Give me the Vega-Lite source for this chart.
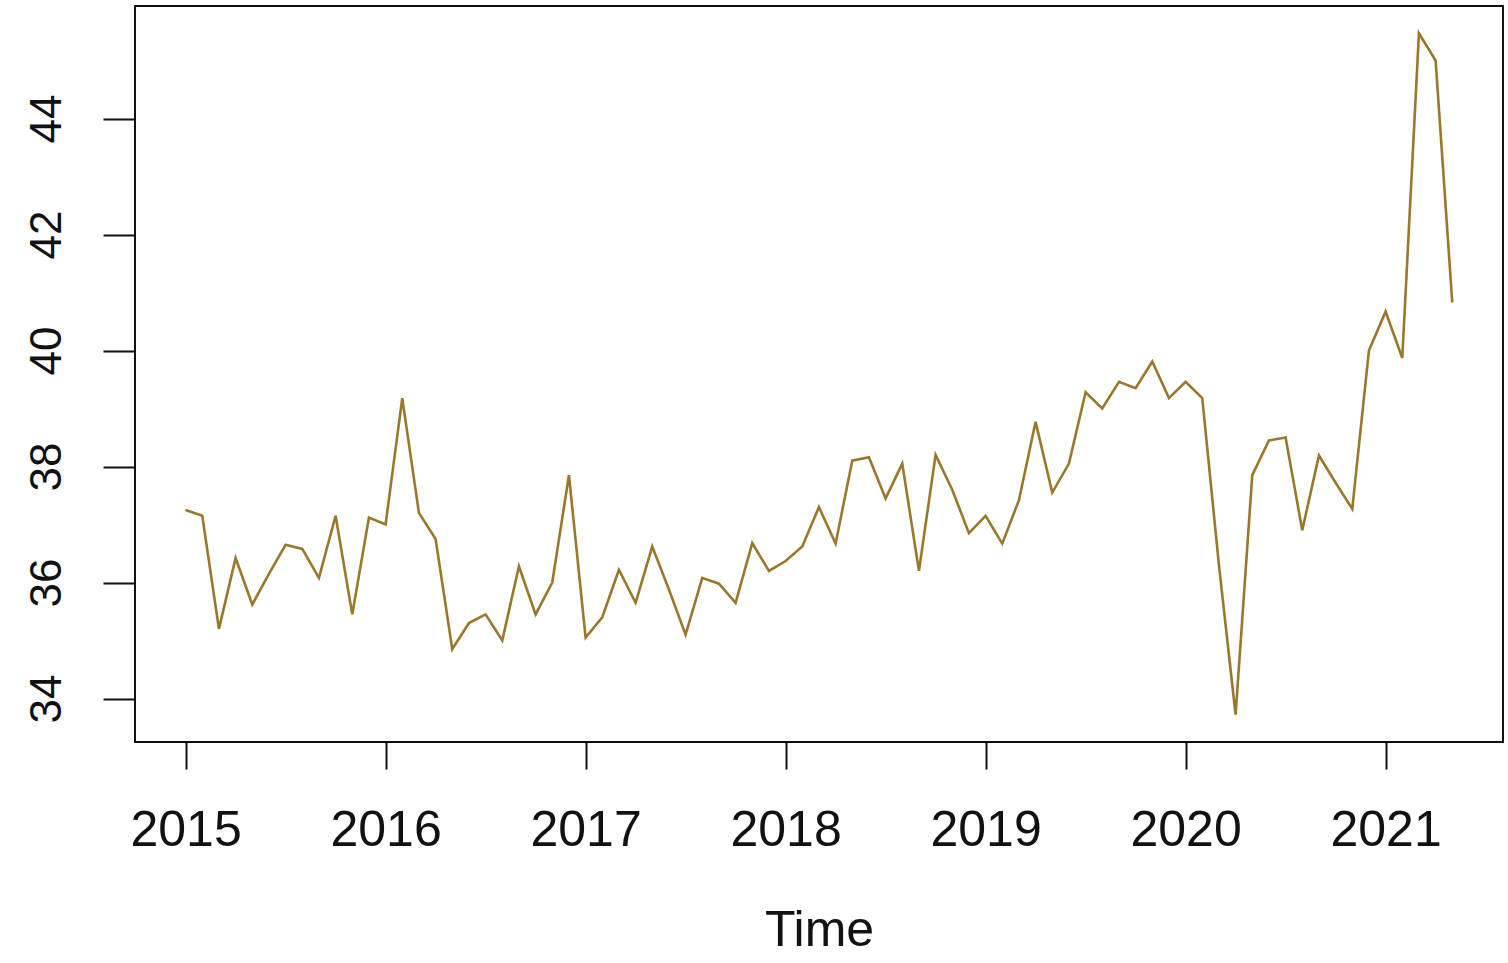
{
  "$schema": "https://vega.github.io/schema/vega-lite/v6.json",
  "width": 1368,
  "height": 736,
  "autosize": {"type": "none"},
  "padding": {"left": 135, "top": 6, "right": 5, "bottom": 221},
  "background": "white",
  "config": {
    "view": {"stroke": "#111", "strokeWidth": 2},
    "font": "Liberation Sans",
    "axis": {"grid": false, "domain": false, "tickColor": "#111", "tickWidth": 2, "labelColor": "#111", "titleColor": "#111", "labelFont": "Liberation Sans", "titleFont": "Liberation Sans", "titleFontWeight": "normal"}
  },
  "data": {
    "values": [
      {"t": 2015.0, "v": 37.25}, {"t": 2015.0833, "v": 37.15}, {"t": 2015.1667, "v": 35.2}, {"t": 2015.25, "v": 36.42},
      {"t": 2015.3333, "v": 35.62}, {"t": 2015.4167, "v": 36.15}, {"t": 2015.5, "v": 36.65}, {"t": 2015.5833, "v": 36.58},
      {"t": 2015.6667, "v": 36.08}, {"t": 2015.75, "v": 37.15}, {"t": 2015.8333, "v": 35.45}, {"t": 2015.9167, "v": 37.12},
      {"t": 2016.0, "v": 37.0}, {"t": 2016.0833, "v": 39.18}, {"t": 2016.1667, "v": 37.2}, {"t": 2016.25, "v": 36.75},
      {"t": 2016.3333, "v": 34.85}, {"t": 2016.4167, "v": 35.3}, {"t": 2016.5, "v": 35.45}, {"t": 2016.5833, "v": 35.0},
      {"t": 2016.6667, "v": 36.28}, {"t": 2016.75, "v": 35.45}, {"t": 2016.8333, "v": 36.0}, {"t": 2016.9167, "v": 37.85},
      {"t": 2017.0, "v": 35.05}, {"t": 2017.0833, "v": 35.4}, {"t": 2017.1667, "v": 36.22}, {"t": 2017.25, "v": 35.65},
      {"t": 2017.3333, "v": 36.62}, {"t": 2017.4167, "v": 35.88}, {"t": 2017.5, "v": 35.1}, {"t": 2017.5833, "v": 36.08},
      {"t": 2017.6667, "v": 35.98}, {"t": 2017.75, "v": 35.65}, {"t": 2017.8333, "v": 36.68}, {"t": 2017.9167, "v": 36.2},
      {"t": 2018.0, "v": 36.37}, {"t": 2018.0833, "v": 36.62}, {"t": 2018.1667, "v": 37.3}, {"t": 2018.25, "v": 36.67},
      {"t": 2018.3333, "v": 38.1}, {"t": 2018.4167, "v": 38.16}, {"t": 2018.5, "v": 37.45}, {"t": 2018.5833, "v": 38.05},
      {"t": 2018.6667, "v": 36.2}, {"t": 2018.75, "v": 38.2}, {"t": 2018.8333, "v": 37.6}, {"t": 2018.9167, "v": 36.85},
      {"t": 2019.0, "v": 37.15}, {"t": 2019.0833, "v": 36.67}, {"t": 2019.1667, "v": 37.42}, {"t": 2019.25, "v": 38.77},
      {"t": 2019.3333, "v": 37.55}, {"t": 2019.4167, "v": 38.05}, {"t": 2019.5, "v": 39.28}, {"t": 2019.5833, "v": 39.0},
      {"t": 2019.6667, "v": 39.46}, {"t": 2019.75, "v": 39.35}, {"t": 2019.8333, "v": 39.81}, {"t": 2019.9167, "v": 39.18},
      {"t": 2020.0, "v": 39.46}, {"t": 2020.0833, "v": 39.18}, {"t": 2020.1667, "v": 36.3}, {"t": 2020.25, "v": 33.72},
      {"t": 2020.3333, "v": 37.85}, {"t": 2020.4167, "v": 38.45}, {"t": 2020.5, "v": 38.5}, {"t": 2020.5833, "v": 36.9},
      {"t": 2020.6667, "v": 38.19}, {"t": 2020.75, "v": 37.72}, {"t": 2020.8333, "v": 37.27}, {"t": 2020.9167, "v": 40.0},
      {"t": 2021.0, "v": 40.67}, {"t": 2021.0833, "v": 39.87}, {"t": 2021.1667, "v": 45.47}, {"t": 2021.25, "v": 45.0},
      {"t": 2021.3333, "v": 40.83}
    ]
  },
  "mark": {"type": "line", "color": "#9A772B", "strokeWidth": 2.6, "interpolate": "linear"},
  "encoding": {
    "x": {
      "field": "t",
      "type": "quantitative",
      "scale": {"domain": [2014.747, 2021.587], "nice": false, "zero": false},
      "axis": {
        "title": "Time",
        "values": [2015, 2016, 2017, 2018, 2019, 2020, 2021],
        "format": "d",
        "tickSize": 27,
        "labelFontSize": 50,
        "labelBaseline": "alphabetic",
        "labelPadding": 76,
        "labelFlush": false,
        "labelOverlap": false,
        "titleFontSize": 50,
        "titleBaseline": "alphabetic",
        "titleY": 203
      }
    },
    "y": {
      "field": "v",
      "type": "quantitative",
      "scale": {"domain": [33.25, 45.94], "nice": false, "zero": false},
      "axis": {
        "title": null,
        "values": [34, 36, 38, 40, 42, 44],
        "tickSize": 32,
        "labelFontSize": 44,
        "labelAngle": -90,
        "labelAlign": "center",
        "labelBaseline": "alphabetic",
        "labelPadding": 43,
        "labelFlush": false,
        "labelOverlap": false
      }
    }
  }
}
